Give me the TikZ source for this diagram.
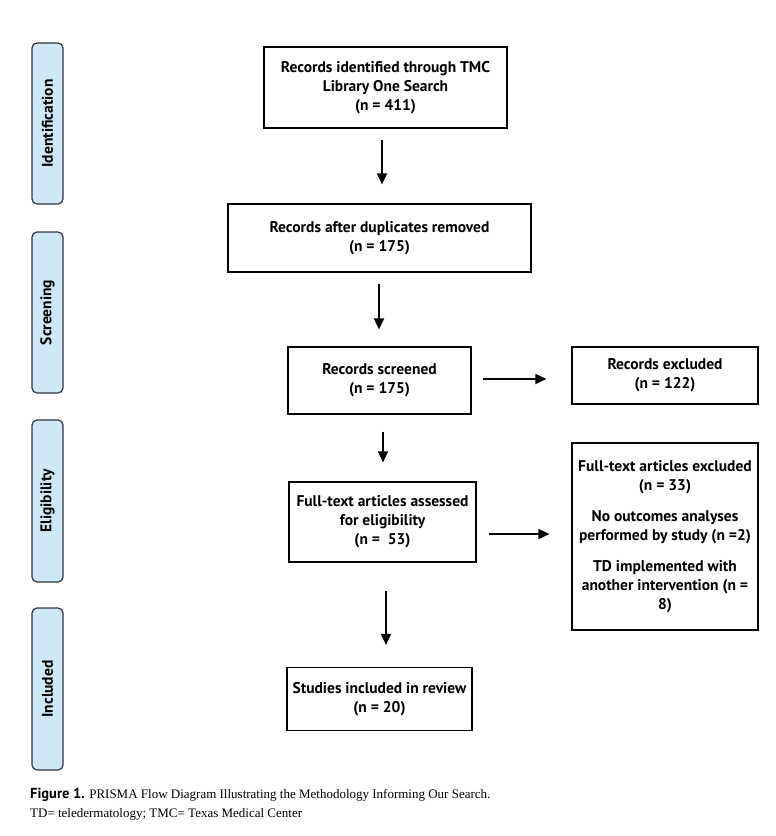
\documentclass[tikz,border=0pt]{standalone}
\usepackage{fontspec}
\setmainfont{Liberation Serif}
\newfontfamily\boxfont{PT Sans}
\usetikzlibrary{arrows.meta}
\definecolor{sideblue}{HTML}{CFE8F8}
\definecolor{sideedge}{HTML}{2E3440}
\begin{document}
\begin{tikzpicture}[x=1pt,y=-1pt,
  flowbox/.style={draw=black, line width=1.2pt, inner sep=0pt, align=center,
    font=\boxfont\bfseries\fontsize{15.5}{19}\selectfont},
  sidebox/.style={draw=sideedge, fill=sideblue, line width=1.2pt, rounded corners=5pt,
    minimum width=31pt, minimum height=161pt, inner sep=0pt},
  sidelabel/.style={rotate=90, font=\boxfont\bfseries\fontsize{15.5}{17}\selectfont},
  flowarrow/.style={line width=1.8pt, -{Triangle[length=11pt,width=10pt]}}]
\useasboundingbox[fill=white] (0,0) rectangle (776,836);

% side stage boxes
\node[sidebox] (sid) at (47.5,123.5) {};
\node[sidelabel] at (sid.center) {Identification};
\node[sidebox] (sscr) at (47.5,312.5) {};
\node[sidelabel] at (sscr.center) {Screening};
\node[sidebox, minimum height=162pt] (selig) at (47.5,501) {};
\node[sidelabel] at (selig.center) {Eligibility};
\node[sidebox, minimum height=162pt] (sinc) at (47.5,689) {};
\node[sidelabel] at (sinc.center) {Included};

% flow boxes
\node[flowbox, minimum width=243pt, minimum height=81pt] (b1) at (385.5,87.5)
  {Records identified through TMC\\Library One Search\\(n = 411)};
\node[flowbox, minimum width=303pt, minimum height=68pt] (b2) at (379.5,238)
  {Records after duplicates removed\\(n = 175)};
\node[flowbox, minimum width=183pt, minimum height=67pt] (b3) at (379.5,380.5)
  {Records screened\\(n = 175)};
\node[flowbox, minimum width=186pt, minimum height=57pt] (b4) at (665,375.5)
  {Records excluded\\(n = 122)};
\node[flowbox, minimum width=187pt, minimum height=80pt] (b5) at (382.5,522)
  {Full-text articles assessed\\for eligibility\\(n =\ \ 53)};
\node[flowbox, minimum width=186pt, minimum height=187pt] (b6) at (665,536.5)
  {Full-text articles excluded\\(n = 33)\\[12pt]No outcomes analyses\\performed by study (n =2)\\[12pt]TD implemented with\\another intervention (n =\\8)};
\node[flowbox, minimum width=185pt, minimum height=63pt] (b7) at (379.5,699)
  {Studies included in review\\(n = 20)};

% connectors
\draw[flowarrow, shorten <=11pt, shorten >=19pt] (b1.south -| 382,0) -- (b2.north -| 382,0);
\draw[flowarrow, shorten <=11pt, shorten >=17pt] (b2.south -| 379,0) -- (b3.north -| 379,0);
\draw[flowarrow, shorten <=11pt, shorten >=25pt] (b3.east |- 0,379) -- (b4.west |- 0,379);
\draw[flowarrow, shorten <=17pt, shorten >=19pt] (b3.south -| 383,0) -- (b5.north -| 383,0);
\draw[flowarrow, shorten <=12pt, shorten >=22pt] (b5.east |- 0,534) -- (b6.west |- 0,534);
\draw[flowarrow, shorten <=28pt, shorten >=22pt] (b5.south -| 386,0) -- (b7.north -| 386,0);

% caption
\node[anchor=base west, inner sep=0pt, font=\fontsize{13}{15}\selectfont] (cap1) at (30,798)
  {{\boxfont\bfseries\fontsize{14.5}{15}\selectfont Figure 1.} PRISMA Flow Diagram Illustrating the Methodology Informing Our Search.};
\node[anchor=base west, inner sep=0pt, font=\fontsize{13}{15}\selectfont] (cap2) at (30,817)
  {TD= teledermatology; TMC= Texas Medical Center};
\end{tikzpicture}
\end{document}
